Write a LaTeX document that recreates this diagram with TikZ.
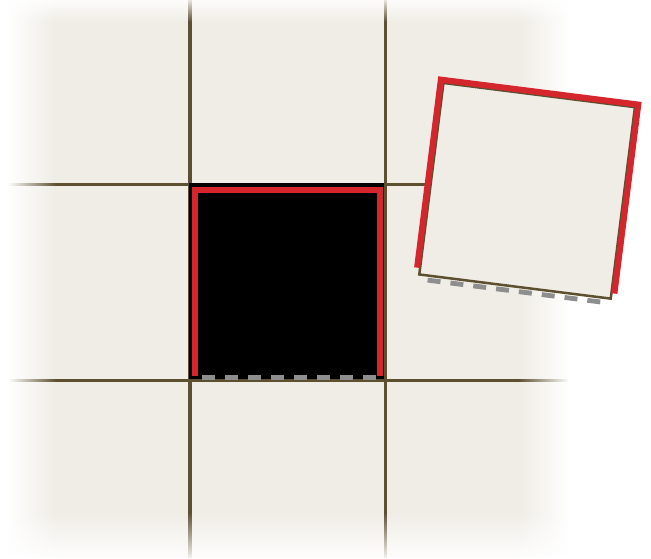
\documentclass[tikz,border=0pt]{standalone}
\usetikzlibrary{fadings}
\definecolor{cream}{RGB}{240,237,230}
\definecolor{olive}{RGB}{92,80,48}
\definecolor{tred}{RGB}{212,38,44}
\definecolor{dashgrey}{RGB}{142,142,142}
\tikzfading[name=opaqueLeft, left color=transparent!0, right color=transparent!100]
\tikzfading[name=opaqueRight, left color=transparent!100, right color=transparent!0]
\tikzfading[name=opaqueTop, top color=transparent!15, bottom color=transparent!100]
\tikzfading[name=opaqueBottom, top color=transparent!100, bottom color=transparent!8]
\tikzset{
  gridline/.style={olive, line width=3.7pt},
  rededge/.style={tred, line cap=butt, line join=miter},
  dashbox/.style={fill=dashgrey},
}
\begin{document}
\begin{tikzpicture}[x=1pt,y=-1pt]
\useasboundingbox (0,0) rectangle (651,558);
\clip (0,0) rectangle (651,558);
% background board
\fill[cream] (0,0) rectangle (570,558);
\draw[gridline] (190,0) -- (190,558);
\draw[gridline] (385.5,0) -- (385.5,558);
\draw[gridline] (0,184.5) -- (575,184.5);
\draw[gridline] (0,380.5) -- (575,380.5);
% edge fades
\fill[white] (-2,-2) rectangle (8,562);
\fill[white, path fading=opaqueLeft] (8,-2) rectangle (56,562);
\fill[white, path fading=opaqueRight] (518,-2) rectangle (569,562);
\fill[white] (568,-2) rectangle (653,562);
\fill[white, path fading=opaqueTop] (-2,0) rectangle (653,22);
\fill[white, path fading=opaqueBottom] (-2,512) rectangle (653,558);
% empty slot
\fill[black] (188.5,183) rectangle (384,379);
\draw[rededge, line width=5.3pt] (195,376) -- (195,190) -- (380,190) -- (380,376);
\foreach \i in {0,...,7}
  \fill[dashbox] ({202+23*\i},375) rectangle ({215+23*\i},380);
% lifted tile
\begin{scope}[shift={(527.1,190.8)}, rotate=-7.2]
  \fill[cream] (-96.5,-96.5) rectangle (96.5,96.5);
  \draw[olive, line width=2.5pt] (-96.5,-96.5) rectangle (96.5,96.5);
  \draw[rededge, line width=6pt] (-99.5,90) -- (-99.5,-99.5) -- (99.5,-99.5) -- (99.5,91);
  \foreach \i in {0,...,7}
    \fill[dashbox] ({-87.5+23*\i},98.7) rectangle ({-74.5+23*\i},103.5);
\end{scope}
\end{tikzpicture}
\end{document}
